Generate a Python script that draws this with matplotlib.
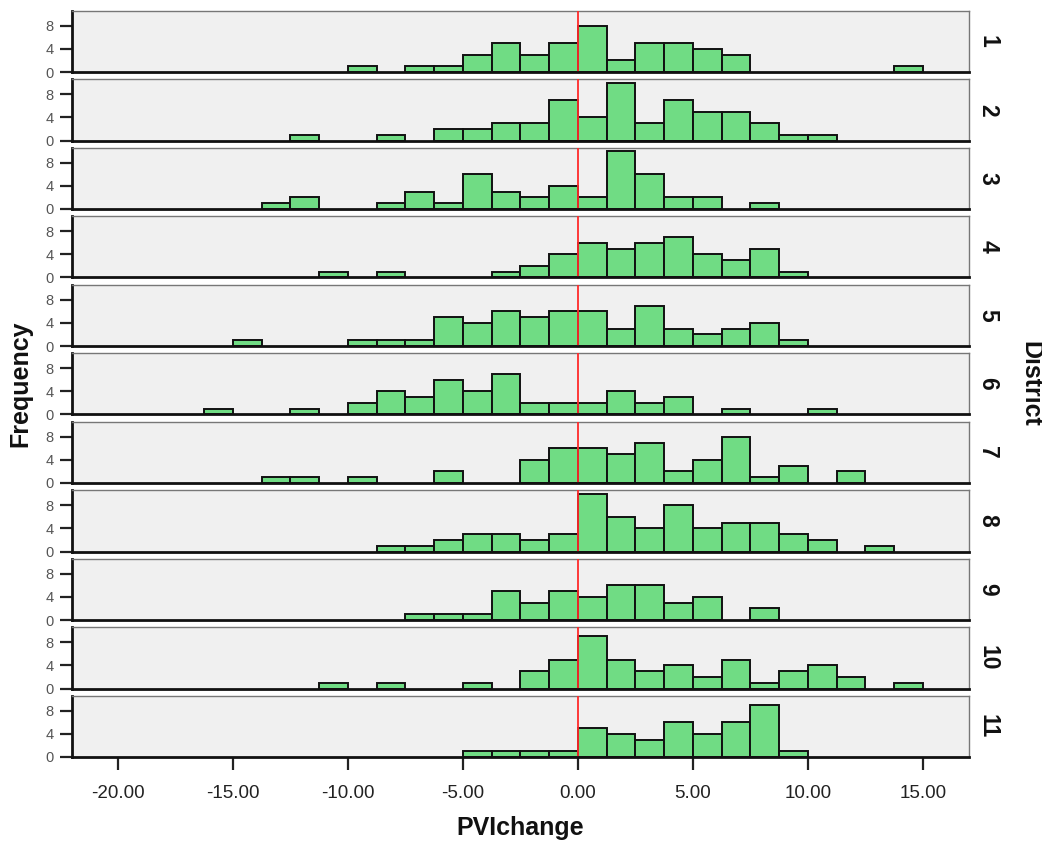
import matplotlib
matplotlib.use("Agg")
import matplotlib.pyplot as plt
from matplotlib import font_manager
import numpy as np

# ---- data ----
bin_width = 1.25
bin_start = -16.25          # left edge of first bin
districts = ["1", "2", "3", "4", "5", "6", "7", "8", "9", "10", "11"]
d1 = [0,0,0,0,0,1,0,1,1,3,5,3,5,8,2,5,5,4,3,0,0,0,0,0,1]
d2 = [0,0,0,1,0,0,1,0,2,2,3,3,7,4,10,3,7,5,5,3,1,1,0,0,0]
d3 = [0,0,1,2,0,0,1,3,1,6,3,2,4,2,10,6,2,2,0,1,0,0,0,0,0]
d4 = [0,0,0,0,1,0,1,0,0,0,1,2,4,6,5,6,7,4,3,5,1,0,0,0,0]
d5 = [0,1,0,0,0,1,1,1,5,4,6,5,6,6,3,7,3,2,3,4,1,0,0,0,0]
d6 = [1,0,0,1,0,2,4,3,6,4,7,2,2,2,4,2,3,0,1,0,0,1,0,0,0]
d7 = [0,0,1,1,0,1,0,0,2,0,0,4,6,6,5,7,2,4,8,1,3,0,2,0,0]
d8 = [0,0,0,0,0,0,1,1,2,3,3,2,3,10,6,4,8,4,5,5,3,2,0,1,0]
d9 = [0,0,0,0,0,0,0,1,1,1,5,3,5,4,6,6,3,4,0,2,0,0,0,0,0]
d10 = [0,0,0,0,1,0,1,0,0,1,0,3,5,9,5,3,4,2,5,1,3,4,2,0,1]
d11 = [0,0,0,0,0,0,0,0,0,1,1,1,1,5,4,3,6,4,6,9,1,0,0,0,0]
counts = [d1, d2, d3, d4, d5, d6, d7, d8, d9, d10, d11]
x_ticks = [-20, -15, -10, -5, 0, 5, 10, 15]
x_tick_labels = ["-20.00", "-15.00", "-10.00", "-5.00", "0.00", "5.00", "10.00", "15.00"]
y_ticks = [0, 4, 8]
ref_value = 0.0

# ---- fonts ----
avail = {f.name for f in font_manager.fontManager.ttflist}
main_font = "Liberation Sans" if "Liberation Sans" in avail else "DejaVu Sans"
narrow_font = "Liberation Sans Narrow" if "Liberation Sans Narrow" in avail else main_font
plt.rcParams["font.family"] = main_font

W, H = 1042, 842
fig = plt.figure(figsize=(W / 100, H / 100), dpi=100)

left_px, right_px = 71.7, 969.0
first_bottom_px = 72.0
pitch_px = 68.5
height_px = 61.3

bar_color = "#70dc84"
panel_bg = "#f0f0f0"

for i, (name, c) in enumerate(zip(districts, counts)):
    bottom_px = first_bottom_px + i * pitch_px
    ax = fig.add_axes([left_px / W, 1 - bottom_px / H,
                       (right_px - left_px) / W, height_px / H])
    ax.set_facecolor(panel_bg)
    edges = bin_start + bin_width * np.arange(len(c))
    mask = np.array(c) > 0
    ax.bar(edges[mask], np.array(c)[mask], width=bin_width, align="edge",
           color=bar_color, edgecolor="#111111", linewidth=1.4, zorder=2)
    ax.axvline(ref_value, color="#ff2a2a", linewidth=1.3, zorder=3)
    ax.set_xlim(-22, 17)
    ax.set_ylim(0, 10.6)
    ax.set_yticks(y_ticks)
    ax.set_yticklabels([str(v) for v in y_ticks], fontsize=10.5,
                       color="#555555", family=narrow_font)
    ax.tick_params(axis="y", length=9, width=1.6, color="#222222", pad=4)
    for s in ["top", "right"]:
        ax.spines[s].set_color("#777777")
        ax.spines[s].set_linewidth(1.0)
    for s in ["left", "bottom"]:
        ax.spines[s].set_color("#111111")
        ax.spines[s].set_linewidth(2.0)
    ax.spines["bottom"].set_zorder(4)
    if i == len(districts) - 1:
        ax.set_xticks(x_ticks)
        ax.set_xticklabels(x_tick_labels, fontsize=13.5, color="#222222")
        ax.tick_params(axis="x", length=9, width=1.6, color="#222222", pad=11)
    else:
        ax.set_xticks([])
    ax.text(1.0 + 19 / (right_px - left_px), 0.5, name, transform=ax.transAxes,
            rotation=-90, ha="center", va="center", fontsize=16.5,
            fontweight="bold", color="#111111")

mid_y = 1 - (10.7 + first_bottom_px + 10 * pitch_px) / 2 / H
fig.text(20 / W, mid_y, "Frequency", rotation=90, ha="center", va="center",
         fontsize=18, fontweight="bold", color="#111111")
fig.text(1030 / W, mid_y, "District", rotation=-90, ha="center", va="center",
         fontsize=18, fontweight="bold", color="#111111")
fig.text((left_px + right_px) / 2 / W, 1 - 828 / H, "PVIchange", ha="center",
         va="center", fontsize=18, fontweight="bold", color="#111111")

fig.savefig("out.png", dpi=100, facecolor="white")
